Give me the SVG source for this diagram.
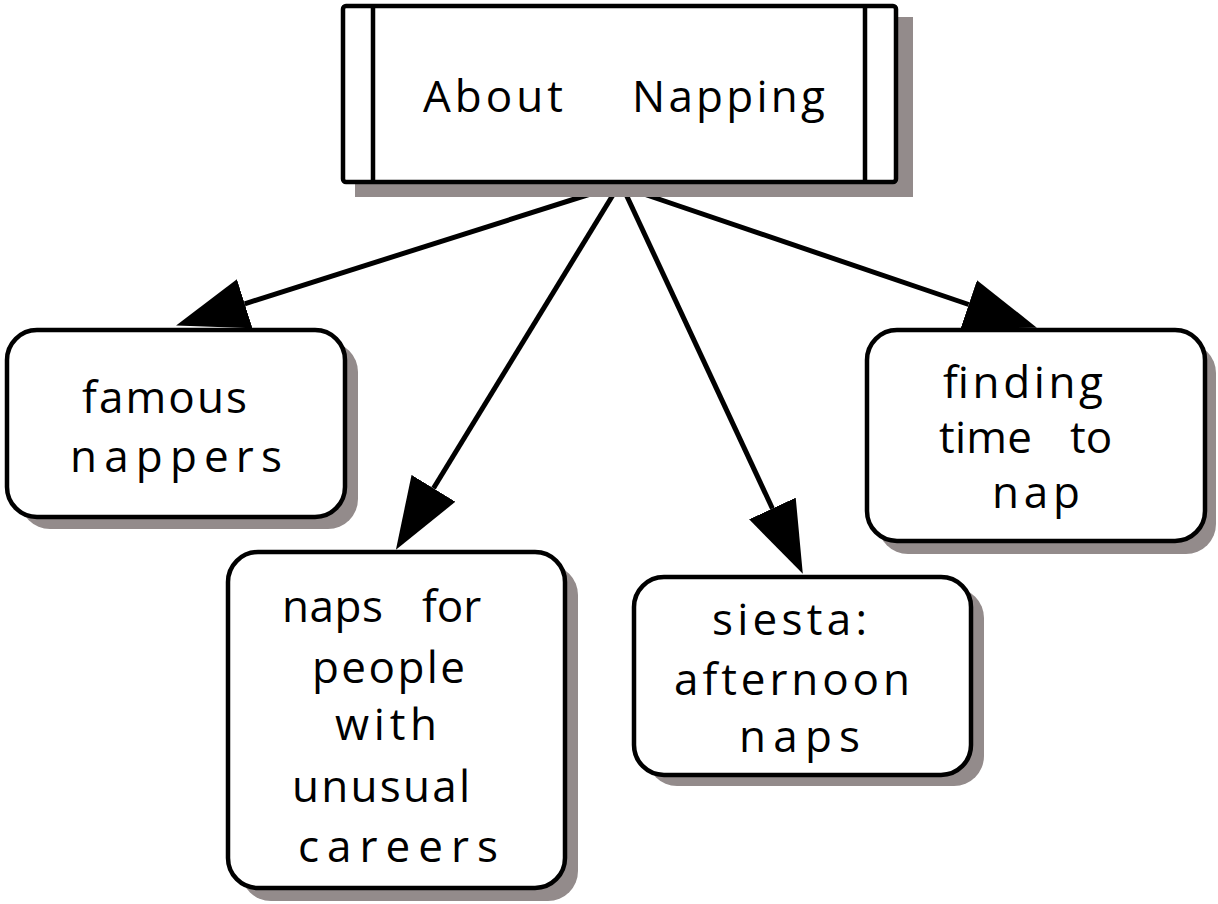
<svg xmlns="http://www.w3.org/2000/svg" width="1218" height="904" viewBox="0 0 1218 904">
<style>
.bg{fill:#ffffff}
.shadow{fill:#938b8b}
.box{fill:#ffffff;stroke:#000000;stroke-width:4.5}
.edge{fill:none;stroke:#000000;stroke-width:5}
.div{fill:none;stroke:#000000;stroke-width:4.5}
.lbl{font-family:"Open Sans","DejaVu Sans",sans-serif;font-size:44px;font-weight:500;fill:#000000}
</style>
<defs>
<marker id="ah" markerUnits="userSpaceOnUse" markerWidth="72" markerHeight="52" refX="0" refY="25" orient="auto" viewBox="0 0 70 50">
<path d="M0,0 L70,25 L0,50 Z" fill="#000000"/>
</marker>
</defs>
<rect class="bg" x="0" y="0" width="1218" height="904"/>
<g id="connectors">
<line class="edge" x1="603" y1="190" x2="244.7" y2="303.8" marker-end="url(#ah)"/>
<line class="edge" x1="616" y1="190" x2="433.5" y2="488.3" marker-end="url(#ah)"/>
<line class="edge" x1="624" y1="190" x2="772.4" y2="508.5" marker-end="url(#ah)"/>
<line class="edge" x1="632" y1="190" x2="968.7" y2="304.5" marker-end="url(#ah)"/>
</g>
<g id="about-napping">
<rect class="shadow" x="355" y="17" width="558" height="180"/>
<rect class="box" x="343" y="6" width="553" height="176" rx="3"/>
<line class="div" x1="373" y1="6" x2="373" y2="182"/>
<line class="div" x1="865" y1="6" x2="865" y2="182"/>
<text class="lbl" y="112"><tspan x="423" textLength="140" lengthAdjust="spacing">About</tspan> <tspan x="632" textLength="193" lengthAdjust="spacing">Napping</tspan></text>
</g>
<g id="famous-nappers">
<rect class="shadow" x="20" y="342" width="338" height="187" rx="30"/>
<rect class="box" x="7" y="330" width="338" height="187" rx="30"/>
<text class="lbl" x="82" y="413" textLength="165" lengthAdjust="spacing">famous</text>
<text class="lbl" x="70" y="472" textLength="212" lengthAdjust="spacing">nappers</text>
</g>
<g id="naps-unusual-careers">
<rect class="shadow" x="241" y="565" width="337" height="336" rx="30"/>
<rect class="box" x="228" y="552" width="337" height="336" rx="30"/>
<text class="lbl" y="622"><tspan x="282" textLength="101" lengthAdjust="spacing">naps</tspan> <tspan x="422">for</tspan></text>
<text class="lbl" x="312" y="683" textLength="153" lengthAdjust="spacing">people</text>
<text class="lbl" x="335" y="740" textLength="102" lengthAdjust="spacing">with</text>
<text class="lbl" x="292" y="802" textLength="178" lengthAdjust="spacing">unusual</text>
<text class="lbl" x="298" y="862" textLength="200" lengthAdjust="spacing">careers</text>
</g>
<g id="siesta">
<rect class="shadow" x="647" y="588" width="337" height="198" rx="30"/>
<rect class="box" x="634" y="577" width="337" height="198" rx="30"/>
<text class="lbl" x="712" y="635" textLength="155" lengthAdjust="spacing">siesta:</text>
<text class="lbl" x="674" y="695" textLength="236" lengthAdjust="spacing">afternoon</text>
<text class="lbl" x="739" y="752" textLength="121" lengthAdjust="spacing">naps</text>
</g>
<g id="finding-time">
<rect class="shadow" x="878" y="343" width="338" height="211" rx="30"/>
<rect class="box" x="867" y="330" width="338" height="211" rx="30"/>
<text class="lbl" x="943" y="398" textLength="160" lengthAdjust="spacing">finding</text>
<text class="lbl" y="453"><tspan x="939" textLength="93" lengthAdjust="spacing">time</tspan> <tspan x="1070">to</tspan></text>
<text class="lbl" x="992" y="508" textLength="88" lengthAdjust="spacing">nap</text>
</g>
</svg>
